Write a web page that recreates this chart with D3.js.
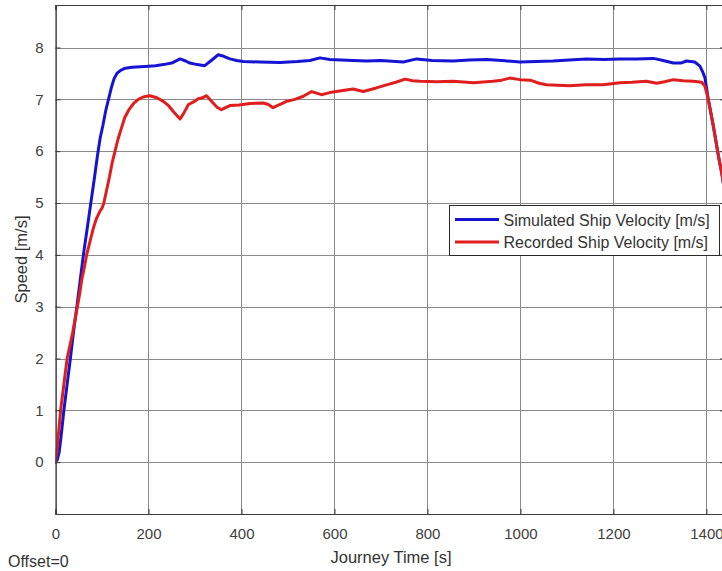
<!DOCTYPE html>
<html>
<head>
<meta charset="utf-8">
<script src="https://cdn.jsdelivr.net/npm/d3@7"></script>
<style>
  html, body { margin: 0; padding: 0; background: #fff; overflow: hidden; }
  svg { display: block; font-family: "Liberation Sans", Arial, sans-serif; }
</style>
</head>
<body>
<svg id="chart" width="722" height="571"></svg>
<script>
// Journey time [s] and simulated ship speed [m/s]
const simTime = [0, 4, 8, 12, 18, 25, 32, 40, 46, 53, 60, 68, 76, 84, 90, 96, 102, 108, 114, 120, 126, 132, 140, 150, 165, 200,
  215, 232, 250, 268, 280, 289, 305, 321, 335, 350, 362, 375, 390, 404, 440, 483, 520, 547, 569, 590, 615, 640, 670, 700,
  748, 777, 810, 855, 890, 927, 960, 999, 1035, 1070, 1105, 1142, 1180, 1214, 1250, 1286, 1307, 1329, 1345, 1357, 1375,
  1386, 1393, 1397, 1404, 1415, 1426, 1433, 1445, 1460];
const simSpeed = [0, 0.05, 0.2, 0.5, 1.0, 1.5, 2.0, 2.6, 3.0, 3.5, 4.0, 4.5, 5.0, 5.5, 5.9, 6.25, 6.5, 6.78, 7.0, 7.22, 7.4, 7.5, 7.56, 7.6, 7.62, 7.64,
  7.65, 7.67, 7.70, 7.78, 7.74, 7.70, 7.67, 7.65, 7.75, 7.86, 7.83, 7.78, 7.75, 7.73, 7.72, 7.71, 7.73, 7.75, 7.80, 7.77, 7.76, 7.75, 7.74, 7.75,
  7.72, 7.78, 7.75, 7.74, 7.76, 7.77, 7.75, 7.72, 7.73, 7.74, 7.76, 7.78, 7.77, 7.78, 7.78, 7.79, 7.75, 7.70, 7.70, 7.74, 7.72,
  7.64, 7.51, 7.41, 7.0, 6.48, 5.9, 5.58, 4.9, 4.0];

// Journey time [s] and recorded ship speed [m/s]
const recTime = [0, 4, 11, 18, 25, 31, 37, 42, 47, 52, 56, 62, 67, 74, 81, 88, 96, 100, 104, 110, 116, 122, 128, 135, 142, 149,
  158, 168, 178, 190, 203, 218, 232, 243, 253, 262, 268, 275, 286, 297, 307, 316, 325, 336, 347, 357, 366, 375, 395, 418,
  447, 458, 468, 482, 497, 515, 533, 551, 572, 590, 618, 640, 662, 690, 712, 732, 752, 768, 784, 820, 855, 899, 941, 960,
  977, 999, 1021, 1040, 1056, 1080, 1106, 1140, 1178, 1214, 1240, 1271, 1293, 1310, 1329, 1350, 1372, 1390, 1397, 1404,
  1415, 1426, 1433, 1445, 1460];
const recSpeed = [0, 0.3, 1.0, 1.5, 2.0, 2.25, 2.5, 2.75, 3.0, 3.25, 3.5, 3.75, 4.0, 4.25, 4.5, 4.7, 4.85, 4.9, 5.0, 5.25, 5.5, 5.78, 6.0, 6.25, 6.45, 6.65,
  6.8, 6.92, 7.0, 7.05, 7.07, 7.03, 6.96, 6.88, 6.77, 6.68, 6.62, 6.72, 6.90, 6.95, 7.01, 7.03, 7.07, 6.96, 6.85, 6.80, 6.84, 6.88, 6.89, 6.92,
  6.93, 6.90, 6.84, 6.90, 6.96, 7.0, 7.06, 7.15, 7.09, 7.13, 7.17, 7.20, 7.15, 7.22, 7.28, 7.33, 7.39, 7.36, 7.35, 7.34, 7.35, 7.32, 7.35, 7.37,
  7.41, 7.38, 7.37, 7.31, 7.28, 7.27, 7.26, 7.28, 7.28, 7.32, 7.33, 7.35, 7.31, 7.34, 7.38, 7.36, 7.35, 7.33, 7.25, 7.0,
  6.48, 5.9, 5.58, 4.9, 4.0];

const xTicks = [0, 200, 400, 600, 800, 1000, 1200, 1400];
const yTicks = [0, 1, 2, 3, 4, 5, 6, 7, 8];
const seriesNames = ["Simulated Ship Velocity [m/s]", "Recorded Ship Velocity [m/s]"];
const seriesColors = ["#1414d2", "#e01e1e"];

const svg = d3.select("#chart");
const plot = { left: 55.5, top: 5, right: 725, bottom: 514 };

const x = d3.scaleLinear().domain([0, 1440]).range([plot.left, plot.right]);
const y = d3.scaleLinear().domain([-1, 8.82]).range([plot.bottom, plot.top]);

// grid
const grid = svg.append("g").attr("stroke", "#8a8a8a").attr("stroke-width", 1);
xTicks.forEach(t => {
  const px = Math.round(x(t)) + 0.5;
  grid.append("line").attr("x1", px).attr("x2", px).attr("y1", plot.top).attr("y2", plot.bottom);
});
yTicks.forEach(t => {
  const py = Math.round(y(t)) + 0.5;
  grid.append("line").attr("x1", plot.left).attr("x2", plot.right).attr("y1", py).attr("y2", py);
});

// data lines
svg.append("clipPath").attr("id", "plotClip").append("rect")
  .attr("x", plot.left).attr("y", plot.top)
  .attr("width", plot.right - plot.left).attr("height", plot.bottom - plot.top);

const line = d3.line().x(d => x(d[0])).y(d => y(d[1]));
const series = [
  d3.zip(simTime, simSpeed),
  d3.zip(recTime, recSpeed)
];
const lines = svg.append("g").attr("clip-path", "url(#plotClip)");
series.forEach((pts, i) => {
  lines.append("path").datum(pts)
    .attr("d", line)
    .attr("fill", "none")
    .attr("stroke", seriesColors[i])
    .attr("stroke-width", 3)
    .attr("stroke-linejoin", "round")
    .attr("stroke-linecap", "round");
});

// axes (ticks point inward, box all around)
const axisColor = "#3a3a3a";
const bottomAxis = svg.append("g")
  .attr("transform", `translate(0,${plot.bottom})`)
  .call(d3.axisBottom(x).tickValues(xTicks).tickSize(-5).tickPadding(14).tickFormat(d3.format("d")));
const leftAxis = svg.append("g")
  .attr("transform", `translate(${plot.left},0)`)
  .call(d3.axisLeft(y).tickValues(yTicks).tickSize(-5).tickPadding(12).tickFormat(d3.format("d")));
const topAxis = svg.append("g")
  .attr("transform", `translate(0,${plot.top})`)
  .call(d3.axisTop(x).tickValues(xTicks).tickSize(-5).tickFormat(""));
const rightAxis = svg.append("g")
  .attr("transform", `translate(${plot.right},0)`)
  .call(d3.axisRight(y).tickValues(yTicks).tickSize(-5).tickFormat(""));

[bottomAxis, leftAxis, topAxis, rightAxis].forEach(g => {
  g.select(".domain").attr("stroke", axisColor).attr("stroke-width", 1.2);
  g.selectAll(".tick line").attr("stroke", axisColor);
  g.selectAll(".tick text").attr("fill", "#404040").attr("font-size", 15)
    .attr("font-family", "'Liberation Sans', Arial, sans-serif");
});

// axis labels
svg.append("text")
  .attr("x", 391).attr("y", 563)
  .attr("text-anchor", "middle")
  .attr("font-size", 16.5).attr("fill", "#333")
  .text("Journey Time [s]");

svg.append("text")
  .attr("transform", `translate(27,${(y(-1) + y(8.82)) / 2}) rotate(-90)`)
  .attr("text-anchor", "middle")
  .attr("font-size", 16.5).attr("fill", "#333")
  .text("Speed [m/s]");

svg.append("text")
  .attr("x", 8).attr("y", 567)
  .attr("font-size", 16).attr("fill", "#333")
  .text("Offset=0");

// legend
const legend = svg.append("g").attr("transform", "translate(449,205)");
legend.append("rect")
  .attr("x", 0.5).attr("y", 0.5).attr("width", 270).attr("height", 50)
  .attr("fill", "#fff").attr("stroke", "#2a2a2a").attr("stroke-width", 1);
seriesNames.forEach((name, i) => {
  const ly = 14.5 + i * 22.5;
  legend.append("line")
    .attr("x1", 6).attr("x2", 50).attr("y1", ly).attr("y2", ly)
    .attr("stroke", seriesColors[i]).attr("stroke-width", 3);
  legend.append("text")
    .attr("x", 54.5).attr("y", ly + 6)
    .attr("font-size", 16).attr("fill", "#333")
    .text(name);
});
</script>
</body>
</html>
